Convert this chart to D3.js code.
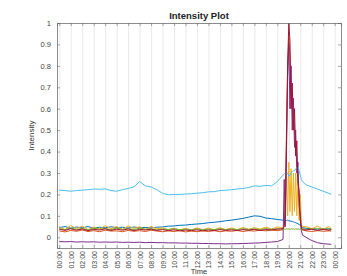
<!DOCTYPE html>
<html><head><meta charset="utf-8">
<script src="https://cdn.jsdelivr.net/npm/d3@7"></script>
<style>
html,body{margin:0;padding:0;background:#fff;}
svg{display:block;font-family:"Liberation Sans",Arial,sans-serif;}
</style></head>
<body><svg id="c" width="347" height="276"></svg>
<script>
const title = "Intensity Plot";
const xLabel = "Time";
const yLabel = "Intensity";
const xTickValues = [0,1,2,3,4,5,6,7,8,9,10,11,12,13,14,15,16,17,18,19,20,21,22,23,24];
const xTickLabels = ["00:00","01:00","02:00","03:00","04:00","05:00","06:00","07:00","08:00","09:00","10:00","11:00","12:00","13:00","14:00","15:00","16:00","17:00","18:00","19:00","20:00","21:00","22:00","23:00","00:00"];
const yTickValues = [0,0.1,0.2,0.3,0.4,0.5,0.6,0.7,0.8,0.9,1];
const yTickLabels = ["0","0.1","0.2","0.3","0.4","0.5","0.6","0.7","0.8","0.9","1"];

const hours = [0,0.5,1,1.5,2,2.5,3,3.5,4,4.5,5,5.5,6,6.5,7,7.5,8,8.5,9,9.5,10,10.5,11,11.5,12,12.5,13,13.5,14,14.5,15,15.5,16,16.5,17,17.5,18,18.5,19,19.5,
  19.6,19.7,19.8,19.9,20,20.1,20.2,20.3,20.4,20.5,20.6,20.7,20.8,20.9,21,21.1,21.2,
  21.5,22,22.5,23,23.5,23.7];

const seriesBlue = [0.045,0.05,0.042,0.048,0.044,0.05,0.043,0.047,0.044,0.049,0.045,0.047,0.043,0.048,0.045,0.046,0.044,0.047,0.048,0.052,0.053,0.056,0.057,0.06,0.062,0.064,0.068,0.07,0.073,0.077,0.08,0.084,0.088,0.094,0.1,0.098,0.09,0.087,0.083,0.08,
  0.08,0.079,0.078,0.08,0.077,0.076,0.075,0.074,0.072,0.07,0.068,0.066,0.063,0.06,0.055,0.05,0.045,
  0.042,0.04,0.038,0.04,0.039,0.04];
const seriesOrange = [0.03,0.025,0.032,0.028,0.034,0.027,0.031,0.026,0.033,0.029,0.03,0.026,0.032,0.028,0.031,0.027,0.033,0.029,0.026,0.03,0.027,0.031,0.025,0.029,0.026,0.03,0.027,0.031,0.026,0.03,0.028,0.032,0.027,0.031,0.029,0.033,0.03,0.034,0.031,0.035,
  0.06,0.2,0.5,0.8,0.93,0.85,0.7,0.62,0.55,0.5,0.42,0.35,0.25,0.18,0.1,0.05,0.035,
  0.03,0.027,0.031,0.028,0.03,0.029];
const seriesYellow = [0.05,0.035,0.055,0.04,0.052,0.036,0.048,0.038,0.054,0.04,0.05,0.037,0.053,0.041,0.049,0.036,0.051,0.039,0.045,0.035,0.043,0.034,0.042,0.033,0.044,0.035,0.043,0.034,0.045,0.036,0.044,0.035,0.046,0.037,0.045,0.038,0.047,0.039,0.048,0.045,
  0.05,0.15,0.3,0.1,0.35,0.12,0.32,0.1,0.3,0.12,0.3,0.1,0.28,0.08,0.2,0.06,0.05,
  0.05,0.04,0.052,0.038,0.05,0.04];
const seriesPurple = [-0.02,-0.021,-0.02,-0.022,-0.021,-0.022,-0.021,-0.023,-0.022,-0.023,-0.022,-0.024,-0.023,-0.024,-0.023,-0.025,-0.024,-0.025,-0.025,-0.026,-0.026,-0.027,-0.027,-0.028,-0.028,-0.029,-0.029,-0.03,-0.03,-0.031,-0.03,-0.03,-0.029,-0.028,-0.027,-0.026,-0.024,-0.022,-0.02,-0.01,
  0.27,0.05,0.4,0.75,0.9,0.6,0.8,0.5,0.65,0.42,0.5,0.3,0.35,0.15,0.1,0.03,0.01,
  0.0,-0.015,-0.025,-0.03,-0.032,-0.033];
const seriesGreen = [0.04,0.036,0.043,0.037,0.041,0.035,0.042,0.038,0.04,0.036,0.043,0.037,0.041,0.036,0.042,0.038,0.04,0.035,0.039,0.036,0.04,0.035,0.038,0.036,0.039,0.035,0.038,0.036,0.04,0.035,0.039,0.036,0.04,0.037,0.039,0.036,0.041,0.037,0.04,0.038,
  0.039,0.037,0.04,0.038,0.039,0.037,0.04,0.038,0.039,0.037,0.04,0.038,0.039,0.037,0.04,0.038,0.039,
  0.038,0.036,0.04,0.037,0.039,0.037];
const seriesCyan = [0.22,0.218,0.215,0.218,0.22,0.222,0.225,0.224,0.226,0.218,0.215,0.222,0.228,0.235,0.26,0.24,0.235,0.222,0.205,0.198,0.2,0.2,0.202,0.203,0.206,0.208,0.212,0.213,0.218,0.22,0.222,0.225,0.228,0.232,0.24,0.238,0.242,0.24,0.26,0.29,
  0.295,0.3,0.298,0.3,0.285,0.288,0.3,0.305,0.31,0.31,0.32,0.325,0.33,0.31,0.29,0.27,0.26,
  0.245,0.235,0.225,0.215,0.205,0.2];
const seriesRed = [0.038,0.032,0.04,0.033,0.039,0.031,0.037,0.034,0.04,0.032,0.038,0.033,0.039,0.031,0.037,0.034,0.038,0.032,0.036,0.031,0.035,0.03,0.034,0.031,0.035,0.03,0.034,0.031,0.036,0.032,0.035,0.031,0.036,0.033,0.037,0.032,0.036,0.034,0.038,0.04,
  0.05,0.12,0.45,0.8,1.0,0.92,0.6,0.72,0.5,0.6,0.38,0.45,0.25,0.22,0.08,0.04,0.035,
  0.034,0.038,0.032,0.037,0.033,0.036];

const seriesList = [
  {values: seriesBlue, color: "#0072BD"},
  {values: seriesOrange, color: "#D95319"},
  {values: seriesYellow, color: "#EDB120"},
  {values: seriesPurple, color: "#7E2F8E"},
  {values: seriesGreen, color: "#77AC30"},
  {values: seriesCyan, color: "#4DBEEE"},
  {values: seriesRed, color: "#A2142F"}
];

const svg = d3.select("#c");
const L = 57, R = 341, T = 23, B = 248;
const x = d3.scaleLinear().domain([-0.2, 24.55]).range([L, R]);
const y = d3.scaleLinear().domain([-0.05, 1]).range([B, T]);

// vertical grid
svg.append("g").attr("class", "grid").attr("transform", `translate(0,${B})`)
  .call(d3.axisBottom(x).tickValues(xTickValues).tickSize(-(B - T)).tickFormat(""))
  .call(g => g.select(".domain").remove())
  .call(g => g.selectAll("line").attr("stroke", "#e3e3e3").attr("stroke-width", 0.8));

svg.append("clipPath").attr("id", "clip").append("rect")
  .attr("x", L).attr("y", T).attr("width", R - L).attr("height", B - T);

const line = d3.line().x((d, i) => x(hours[i])).y(d => y(d));
const plot = svg.append("g").attr("clip-path", "url(#clip)");
seriesList.forEach(s => {
  plot.append("path").datum(s.values)
    .attr("fill", "none").attr("stroke", s.color)
    .attr("stroke-width", 1).attr("stroke-linejoin", "round")
    .attr("d", line);
});

const axisColor = "#6e6e6e";
const axes = svg.append("g").attr("class", "axes");
const gx = axes.append("g").attr("transform", `translate(0,${B})`)
  .call(d3.axisBottom(x).tickValues(xTickValues).tickSize(-3).tickFormat((d, i) => xTickLabels[i]));
gx.selectAll("text")
  .attr("transform", "rotate(-90)")
  .attr("text-anchor", "end")
  .attr("x", -3).attr("y", 0).attr("dy", "0.35em")
  .attr("font-size", "7px").attr("fill", "#444");
axes.append("g").attr("transform", `translate(0,${T})`)
  .call(d3.axisTop(x).tickValues(xTickValues).tickSize(-3).tickFormat(""));
const gy = axes.append("g").attr("transform", `translate(${L},0)`)
  .call(d3.axisLeft(y).tickValues(yTickValues).tickSize(-3).tickPadding(6).tickFormat((d, i) => yTickLabels[i]));
gy.selectAll("text").attr("font-size", "7.5px").attr("fill", "#444");
axes.append("g").attr("transform", `translate(${R},0)`)
  .call(d3.axisRight(y).tickValues(yTickValues).tickSize(-3).tickFormat(""));

axes.selectAll(".domain").attr("stroke", axisColor).attr("stroke-width", 0.8);
axes.selectAll(".tick line").attr("stroke", axisColor).attr("stroke-width", 0.6);

svg.append("text").attr("x", (L + R) / 2).attr("y", 19).attr("text-anchor", "middle")
  .attr("font-size", "9.5px").attr("font-weight", "bold").attr("fill", "#222").text(title);
svg.append("text").attr("x", (L + R) / 2).attr("y", 274).attr("text-anchor", "middle")
  .attr("font-size", "7.5px").attr("fill", "#333").text(xLabel);
svg.append("text").attr("transform", `translate(34,${(T + B) / 2}) rotate(-90)`).attr("text-anchor", "middle")
  .attr("font-size", "8px").attr("fill", "#333").text(yLabel);
</script></body></html>
